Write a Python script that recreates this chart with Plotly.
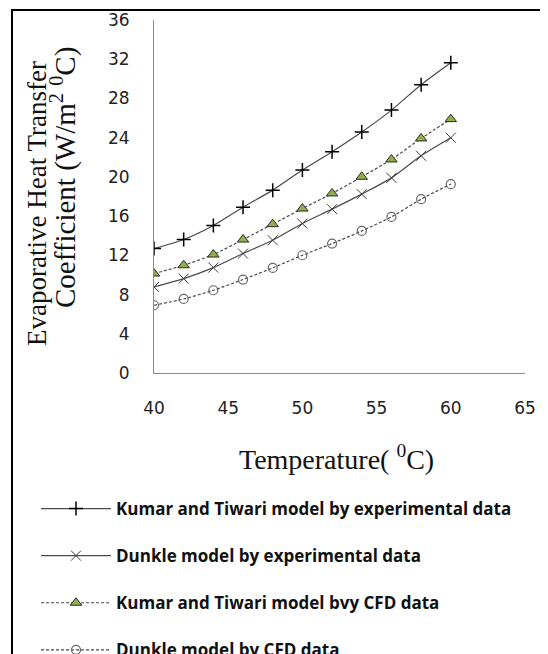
import plotly.graph_objects as go

# ---- data ----
temperature = [40, 42, 44, 46, 48, 50, 52, 54, 56, 58, 60]
kumar_exp = [12.69, 13.61, 15.04, 16.91, 18.65, 20.69, 22.56, 24.57, 26.81, 29.40, 31.64]
dunkle_exp = [8.78, 9.63, 10.75, 12.18, 13.54, 15.24, 16.71, 18.24, 19.90, 22.15, 23.99]
kumar_cfd = [10.14, 10.99, 12.08, 13.61, 15.18, 16.77, 18.31, 20.01, 21.78, 23.92, 25.89]
dunkle_cfd = [6.91, 7.55, 8.44, 9.53, 10.72, 12.01, 13.20, 14.49, 15.92, 17.73, 19.26]

series_names = [
    "Kumar and Tiwari model by experimental data",
    "Dunkle model by experimental data",
    "Kumar and Tiwari model bvy CFD data",
    "Dunkle model by CFD data",
]
x_ticks = [40, 45, 50, 55, 60, 65]
y_ticks = [0, 4, 8, 12, 16, 20, 24, 28, 32, 36]

# the page body has an 8px margin, so the figure is laid out in page pixels minus 8
OFF = 8
W, H = 540, 646
PLOT_LEFT, PLOT_RIGHT, PLOT_TOP, PLOT_BOTTOM = 154, 525, 20, 373  # page pixels
L = PLOT_LEFT - OFF
T = PLOT_TOP - OFF
R = W - (PLOT_RIGHT - OFF)
B = H - (PLOT_BOTTOM - OFF)
PW, PH = W - L - R, H - T - B


def px2x(px):
    return (px - OFF - L) / PW


def py2y(py):
    return (H - B - (py - OFF)) / PH


fig = go.Figure()

fig.add_trace(go.Scatter(
    x=temperature, y=kumar_exp, name=series_names[0], legendgroup="a",
    mode="lines+markers",
    line=dict(color="#4a4a4a", width=1.2, shape="spline", smoothing=0.8),
    marker=dict(symbol="cross-thin", size=10, line=dict(color="#000000", width=1.5)),
))
fig.add_trace(go.Scatter(
    x=temperature, y=dunkle_exp, name=series_names[1], legendgroup="b",
    mode="lines+markers",
    line=dict(color="#4a4a4a", width=1.2, shape="spline", smoothing=0.8),
    marker=dict(symbol="x-thin", size=10, line=dict(color="#3a3a3a", width=1)),
))
fig.add_trace(go.Scatter(
    x=temperature, y=kumar_cfd, name=series_names[2], legendgroup="c",
    mode="lines+markers",
    line=dict(color="#4a4a4a", width=1.2, dash="3px,2px", shape="spline", smoothing=0.8),
    marker=dict(symbol="triangle-up", size=10, color="#8fb04a",
                line=dict(color="#2a2a2a", width=1)),
))
fig.add_trace(go.Scatter(
    x=temperature, y=dunkle_cfd, name=series_names[3], legendgroup="d",
    mode="lines+markers",
    line=dict(color="#4a4a4a", width=1.2, dash="3px,2px", shape="spline", smoothing=0.8),
    marker=dict(symbol="circle-open", size=9, color="#666666", line=dict(width=1.2)),
))

fig.update_layout(
    width=W, height=H,
    margin=dict(l=L, r=R, t=T, b=B, autoexpand=False),
    paper_bgcolor="white", plot_bgcolor="white",
    showlegend=True,
    legend=dict(
        x=px2x(36), y=py2y(491), xanchor="left", yanchor="top",
        orientation="v", tracegroupgap=22, itemwidth=70,
        font=dict(family="Open Sans", size=17, color="#111111", weight="bold"),
        bgcolor="rgba(0,0,0,0)",
    ),
    xaxis=dict(
        range=[40, 65], tickvals=x_ticks, ticktext=[str(v) for v in x_ticks],
        showline=True, linecolor="#8a8a8a", linewidth=1,
        showgrid=False, zeroline=False, ticks="",
        ticklabelstandoff=20,
        tickfont=dict(family="DejaVu Sans", size=17, color="#222222"),
    ),
    yaxis=dict(
        range=[0, 36], tickvals=y_ticks, ticktext=[str(v) for v in y_ticks],
        showline=True, linecolor="#8a8a8a", linewidth=1,
        showgrid=False, zeroline=False, ticks="",
        ticklabelstandoff=20,
        tickfont=dict(family="DejaVu Sans", size=17, color="#222222"),
    ),
    shapes=[dict(
        type="rect", xref="paper", yref="paper",
        x0=px2x(12), x1=px2x(541), y0=py2y(670), y1=py2y(10),
        line=dict(color="#000000", width=2), fillcolor="rgba(0,0,0,0)",
    )],
    annotations=[
        dict(text="Evaporative Heat Transfer", xref="paper", yref="paper",
             x=px2x(37), y=py2y(204), xanchor="center", yanchor="middle",
             textangle=-90, showarrow=False,
             font=dict(family="Liberation Serif", size=27, color="#111111")),
        dict(text="Coefficient (W/m<sup>2</sup> <sup>0</sup>C)", xref="paper", yref="paper",
             x=px2x(63), y=py2y(178), xanchor="center", yanchor="middle",
             textangle=-90, showarrow=False,
             font=dict(family="Liberation Serif", size=29, color="#111111")),
        dict(text="Temperature( <sup>0</sup>C)", xref="paper", yref="paper",
             x=px2x(336), y=py2y(457), xanchor="center", yanchor="middle",
             showarrow=False,
             font=dict(family="Liberation Serif", size=28, color="#111111")),
    ],
)

fig.write_html("out.html")
